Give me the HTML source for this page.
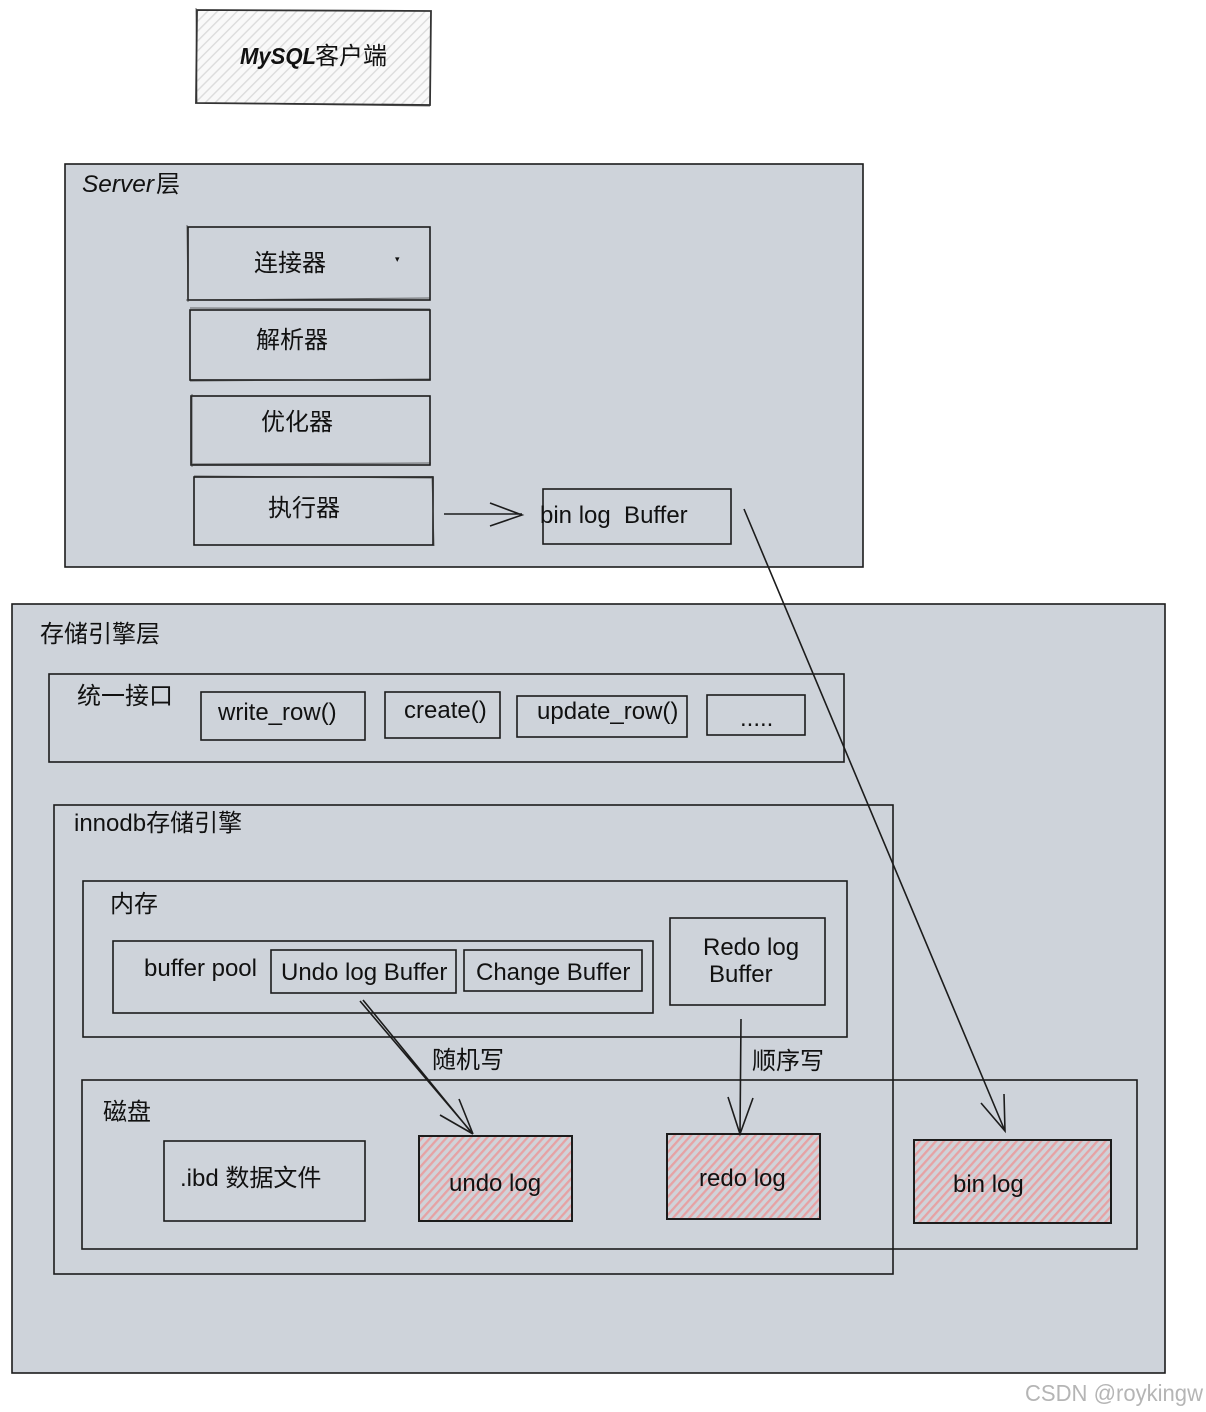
<!DOCTYPE html>
<html><head><meta charset="utf-8"><style>
html,body{margin:0;padding:0;background:#fff;width:1206px;height:1412px;overflow:hidden}
svg{display:block}
text{font-family:"Liberation Sans","Noto Sans CJK SC",sans-serif;font-size:24px;fill:#111}
.b{fill:none;stroke:#1c1c1c;stroke-width:1.6}
.t{fill:none;stroke:#333;stroke-width:1;opacity:.7}
</style></head><body>
<svg width="1206" height="1412" viewBox="0 0 1206 1412" xmlns="http://www.w3.org/2000/svg">
<defs>
<pattern id="g" width="7" height="7" patternUnits="userSpaceOnUse" patternTransform="rotate(45)"><rect width="7" height="7" fill="#f9f9f9"/><rect width="1.4" height="7" fill="#dcdcdc"/></pattern>
<pattern id="r" width="6" height="6" patternUnits="userSpaceOnUse" patternTransform="rotate(42)"><rect width="6" height="6" fill="#d0d3d9"/><rect width="2.3" height="6" fill="#e6a2a4"/></pattern>
</defs>
<rect width="1206" height="1412" fill="#fff"/>
<path d="M197 10L431 11L430 105L196 103Z" fill="url(#g)" stroke="#333" stroke-width="1.8"/>
<path class="t" d="M196 8L197 103M195 103L430 106"/>
<text x="240" y="64" textLength="76" lengthAdjust="spacingAndGlyphs" style="font-weight:bold;font-style:italic;font-size:23px">MySQL</text>
<text x="315" y="64" style="font-size:24px">客户端</text>

<rect x="65" y="164" width="798" height="403" fill="#ced3da" stroke="#1c1c1c" stroke-width="1.6"/>
<text x="82" y="192" textLength="72" lengthAdjust="spacingAndGlyphs" style="font-style:italic">Server</text>
<text x="156" y="192">层</text>
<rect class="b" x="188" y="227" width="242" height="73"/>
<path class="t" d="M187 225L188 302M186 300L430 298"/>
<text x="254" y="271">连接器</text>
<text x="395" y="262" style="font-size:9px">▾</text>
<rect class="b" x="190" y="310" width="240" height="70"/>
<path class="t" d="M190 308L430 309M190 381L431 379"/>
<text x="256" y="348">解析器</text>
<rect class="b" x="191" y="396" width="239" height="69"/>
<path class="t" d="M192 394L192 467M191 464L431 463"/>
<text x="261" y="430">优化器</text>
<rect class="b" x="194" y="477" width="239" height="68"/>
<path class="t" d="M194 476L433 478M432 476L434 546"/>
<text x="268" y="516">执行器</text>
<path class="b" d="M444 514H522M490 503L522 515L490 526"/>
<rect class="b" x="543" y="489" width="188" height="55"/>
<text x="540" y="523">bin log&#160; Buffer</text>

<rect x="12" y="604" width="1153" height="769" fill="#ced3da" stroke="#1c1c1c" stroke-width="1.6"/>
<text x="40" y="642">存储引擎层</text>
<rect class="b" x="49" y="674" width="795" height="88"/>
<text x="77" y="704">统一接口</text>
<rect class="b" x="201" y="692" width="164" height="48"/>
<text x="218" y="720">write_row()</text>
<rect class="b" x="385" y="692" width="115" height="46"/>
<text x="404" y="718">create()</text>
<rect class="b" x="517" y="696" width="170" height="41"/>
<text x="537" y="719">update_row()</text>
<rect class="b" x="707" y="695" width="98" height="40"/>
<text x="740" y="726">.....</text>

<rect class="b" x="54" y="805" width="839" height="469"/>
<text x="74" y="831">innodb存储引擎</text>
<rect class="b" x="83" y="881" width="764" height="156"/>
<text x="110" y="912">内存</text>
<rect class="b" x="113" y="941" width="540" height="72"/>
<text x="144" y="976">buffer pool</text>
<rect class="b" x="271" y="950" width="185" height="43"/>
<text x="281" y="980">Undo log Buffer</text>
<rect class="b" x="464" y="950" width="178" height="41"/>
<text x="476" y="980">Change Buffer</text>
<rect class="b" x="670" y="918" width="155" height="87"/>
<text x="703" y="955">Redo log</text>
<text x="709" y="982">Buffer</text>

<rect class="b" x="82" y="1080" width="1055" height="169"/>
<text x="103" y="1120">磁盘</text>
<rect class="b" x="164" y="1141" width="201" height="80"/>
<text x="180" y="1186">.ibd 数据文件</text>

<rect x="419" y="1136" width="153" height="85" fill="url(#r)" stroke="#1c1c1c" stroke-width="2"/>
<text x="449" y="1191">undo log</text>
<rect x="667" y="1134" width="153" height="85" fill="url(#r)" stroke="#1c1c1c" stroke-width="2"/>
<text x="699" y="1186">redo log</text>
<rect x="914" y="1140" width="197" height="83" fill="url(#r)" stroke="#1c1c1c" stroke-width="2"/>
<text x="953" y="1192">bin log</text>

<path class="b" d="M360 1001L473 1134M363 1000L471 1132M440 1115L473 1134M459 1099L473 1134"/>
<text x="432" y="1068">随机写</text>
<path class="b" d="M741 1019L740 1134M728 1097L740 1134L753 1098"/>
<text x="752" y="1069">顺序写</text>
<path class="b" d="M744 509L1005 1131M981 1103L1005 1131L1004 1094"/>

<text x="1025" y="1401" textLength="178" lengthAdjust="spacingAndGlyphs" style="font-size:23px;fill:#b5b5b5">CSDN @roykingw</text>
</svg>
</body></html>
